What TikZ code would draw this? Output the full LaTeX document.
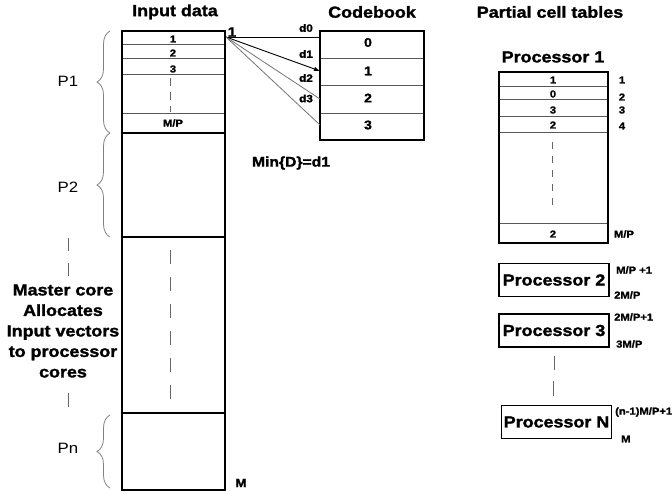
\documentclass[tikz,border=0pt]{standalone}
\usepackage{fontspec}
\setmainfont{Liberation Sans}[FakeStretch=1.12, BoldFeatures={FakeBold=1.6}]
\usetikzlibrary{decorations.pathreplacing,arrows.meta}
\begin{document}
\begin{tikzpicture}[x=1pt,y=-1pt,
  heading/.style={font=\fontsize{16}{19}\selectfont\bfseries, inner sep=0pt},
  cell/.style={font=\fontsize{10}{11}\selectfont\bfseries, inner sep=0pt},
  cbcell/.style={font=\fontsize{12.5}{13}\selectfont\bfseries, inner sep=0pt},
  dlabel/.style={font=\fontsize{10.5}{11}\selectfont\bfseries, inner sep=0pt},
  plabel/.style={font=\fontsize{15}{17}\selectfont, inner sep=0pt},
  outline/.style={draw=black, line width=1.8pt},
  rowline/.style={draw=black!65, line width=0.9pt},
  sep/.style={draw=black, line width=1.8pt},
  brc/.style={draw=black!50, line width=0.8pt, decorate, decoration={brace, amplitude=13pt}},
  dsh/.style={draw=black!60, line width=0.9pt},
  procbox/.style={draw=black, line width=1.8pt, minimum width=110pt, minimum height=33pt, inner sep=0pt, font=\fontsize{16}{19}\selectfont\bfseries},
  fan/.style={draw=black!55, line width=0.8pt}
]
\useasboundingbox (0,0) rectangle (672,493);

% ---------- headings ----------
\node[heading] (hin) at (175,12) {Input data};
\node[heading] (hcb) at (372,12) {Codebook};
\node[heading] (hpc) at (550,12) {Partial cell tables};

% ---------- input data column ----------
\draw[rowline] (122,44) -- (225,44);
\draw[rowline] (122,58) -- (225,58);
\draw[rowline] (122,74) -- (225,74);
\draw[rowline] (122,113) -- (225,113);
\draw[sep] (122,133) -- (225,133);
\draw[sep] (122,237) -- (225,237);
\draw[sep] (122,413) -- (225,413);
\draw[outline] (122,31) rectangle (225,490);
\node[cell] (in1) at (173,39) {1};
\node[cell] (in2) at (173,53) {2};
\node[cell] (in3) at (173,69) {3};
\node[cell] (inmp) at (173,123) {M/P};
\draw[dsh, dash pattern=on 8pt off 6pt] (170,78) -- (170,112);
\draw[dsh, dash pattern=on 14pt off 13pt] (170,250) -- (170,402);
\node[font=\fontsize{12}{13}\selectfont\bfseries, inner sep=0pt] (inM) at (241,483) {M};
\node[font=\fontsize{13.5}{14}\selectfont\bfseries, inner sep=0pt] (one) at (232,32) {1};

% ---------- braces ----------
\draw[brc] (110,133) -- (110,31);
\draw[brc] (110,237) -- (110,133);
\draw[brc] (110,488) -- (110,415);
\node[plabel] (p1) at (68,81) {P1};
\node[plabel] (p2) at (68,187) {P2};
\node[plabel] (pn) at (68,448) {Pn};
\draw[dsh, dash pattern=on 13pt off 12pt] (68,238) -- (68,277);
\draw[dsh] (68,393) -- (68,407);
\node[font=\fontsize{16}{20.5}\selectfont\bfseries, align=center, inner sep=0pt] (master) at (63,331)
  {Master core\\Allocates\\Input vectors\\to processor\\cores};

% ---------- codebook ----------
\draw[rowline] (320,58) -- (424,58);
\draw[rowline] (320,85) -- (424,85);
\draw[rowline] (320,113) -- (424,113);
\draw[outline] (320,31) rectangle (424,140);
\node[cbcell] (cb0) at (368,42.5) {0};
\node[cbcell] (cb1) at (368,71) {1};
\node[cbcell] (cb2) at (368,98) {2};
\node[cbcell] (cb3) at (368,125) {3};

\coordinate (src) at (226,37);
\coordinate (e0) at (320,37);
\coordinate (e1) at (320,71);
\coordinate (e2) at (320,99);
\coordinate (e3) at (320,125);
\draw[draw=black, line width=0.8pt] (src) -- (e0);
\draw[draw=black, line width=0.9pt, -{Latex[length=6pt,width=4.5pt]}] (src) -- (e1);
\draw[fan] (src) -- (e2);
\draw[fan] (src) -- (e3);
\node[dlabel] (d0) at (306,28) {d0};
\node[dlabel] (d1) at (306,54) {d1};
\node[dlabel] (d2) at (306,78) {d2};
\node[dlabel] (d3) at (306,98.5) {d3};
\node[font=\fontsize{14}{16}\selectfont\bfseries, inner sep=0pt] (min) at (291,163) {Min\{D\}=d1};

% ---------- processor 1 table ----------
\node[heading] (hp1) at (553,57) {Processor 1};
\draw[rowline] (499,86) -- (608,86);
\draw[rowline] (499,99) -- (608,99);
\draw[rowline] (499,116) -- (608,116);
\draw[rowline] (499,132) -- (608,132);
\draw[rowline] (499,223) -- (608,223);
\draw[outline] (499,72) rectangle (608,243);
\node[cell] (t1) at (553,80) {1};
\node[cell] (t2) at (553,94) {0};
\node[cell] (t3) at (553,110) {3};
\node[cell] (t4) at (553,125) {2};
\node[cell] (tm) at (553,234) {2};
\draw[dsh, dash pattern=on 7pt off 7pt] (552,142) -- (552,211);
\node[cell] (r1) at (622,80) {1};
\node[cell] (r2) at (622,97) {2};
\node[cell] (r3) at (622,110) {3};
\node[cell] (r4) at (622,126) {4};
\node[cell] (rm) at (624,234) {M/P};

% ---------- other processors ----------
\node[procbox] (pr2) at (554,280) {Processor 2};
\node[procbox] (pr3) at (554,330.5) {Processor 3};
\node[procbox] (prn) at (556.5,422) {Processor N};
\node[cell, anchor=west] (a2) at (616,270) {M/P +1};
\node[cell, anchor=west] (b2) at (614,295) {2M/P};
\node[cell, anchor=west] (a3) at (614,317) {2M/P+1};
\node[cell, anchor=west] (b3) at (616,344) {3M/P};
\node[cell, anchor=west] (an) at (615,412) {(n-1)M/P+1};
\node[cell, anchor=west] (bn) at (621,439) {M};
\draw[dsh] (pr3.south) ++(0,8) -- ++(0,14);
\draw[dsh] (prn.north) ++(-3,-24) -- ++(0,15);
\end{tikzpicture}
\end{document}
